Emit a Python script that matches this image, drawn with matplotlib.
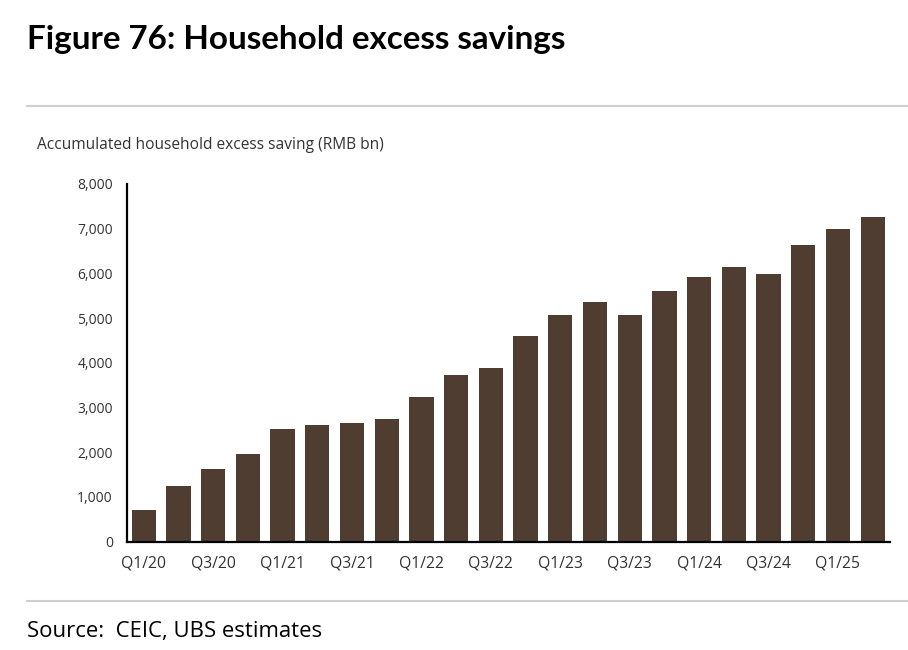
import numpy as np
import matplotlib
matplotlib.use("Agg")
import matplotlib.pyplot as plt

# data (RMB bn)
quarters = ["Q1/20", "Q2/20", "Q3/20", "Q4/20",
            "Q1/21", "Q2/21", "Q3/21", "Q4/21",
            "Q1/22", "Q2/22", "Q3/22", "Q4/22",
            "Q1/23", "Q2/23", "Q3/23", "Q4/23",
            "Q1/24", "Q2/24", "Q3/24", "Q4/24",
            "Q1/25", "Q2/25"]
excess_saving = [715, 1240, 1625, 1955,
                 2515, 2610, 2665, 2740,
                 3235, 3730, 3880, 4600,
                 5080, 5365, 5080, 5600,
                 5915, 6150, 5990, 6645,
                 7000, 7270]
y_ticks = [0, 1000, 2000, 3000, 4000, 5000, 6000, 7000, 8000]

bar_color = "#4f3d31"
text_color = "#333333"

plt.rcParams['font.family'] = ['Open Sans', 'DejaVu Sans']

fig = plt.figure(figsize=(9.08, 6.5), dpi=100)
ax = fig.add_axes([0.1395, 0.1666, 0.9802 - 0.1395, 0.717 - 0.1666])

x = np.arange(len(quarters))
ax.bar(x, excess_saving, width=0.7, color=bar_color, zorder=2)

ax.set_xlim(-0.49, len(quarters) - 0.5)
ax.set_ylim(0, 8000)
ax.set_yticks(y_ticks)
ax.set_yticklabels([f"{v:,}" for v in y_ticks])
ax.set_xticks(x[::2])
ax.set_xticklabels(quarters[::2])
ax.tick_params(axis='both', length=0, colors=text_color)
ax.tick_params(axis='y', pad=10, labelsize=10)
ax.tick_params(axis='x', pad=10, labelsize=11.3)

for s in ['top', 'right']:
    ax.spines[s].set_visible(False)
for s in ['left', 'bottom']:
    ax.spines[s].set_linewidth(1.6)
    ax.spines[s].set_color("black")

# title, separators, axis caption and source
fig.text(27 / 908, 1 - 40 / 650, "Figure 76: Household excess savings",
         fontsize=23.9, fontweight='bold', family=['Lato', 'DejaVu Sans'],
         ha='left', va='center', color='black')
fig.add_artist(plt.Line2D([27 / 908, 1.0], [1 - 106 / 650] * 2,
                          color="#cfcfcf", linewidth=1.5))
fig.add_artist(plt.Line2D([27 / 908, 1.0], [1 - 601 / 650] * 2,
                          color="#cfcfcf", linewidth=1.5))
fig.text(37 / 908, 1 - 145 / 650, "Accumulated household excess saving (RMB bn)",
         fontsize=11.2, ha='left', va='center', color=text_color)
fig.text(27 / 908, 1 - 631 / 650, "Source:  CEIC, UBS estimates",
         fontsize=15.9, ha='left', va='center', color='black')

plt.savefig("out.png", dpi=100)
plt.close()
